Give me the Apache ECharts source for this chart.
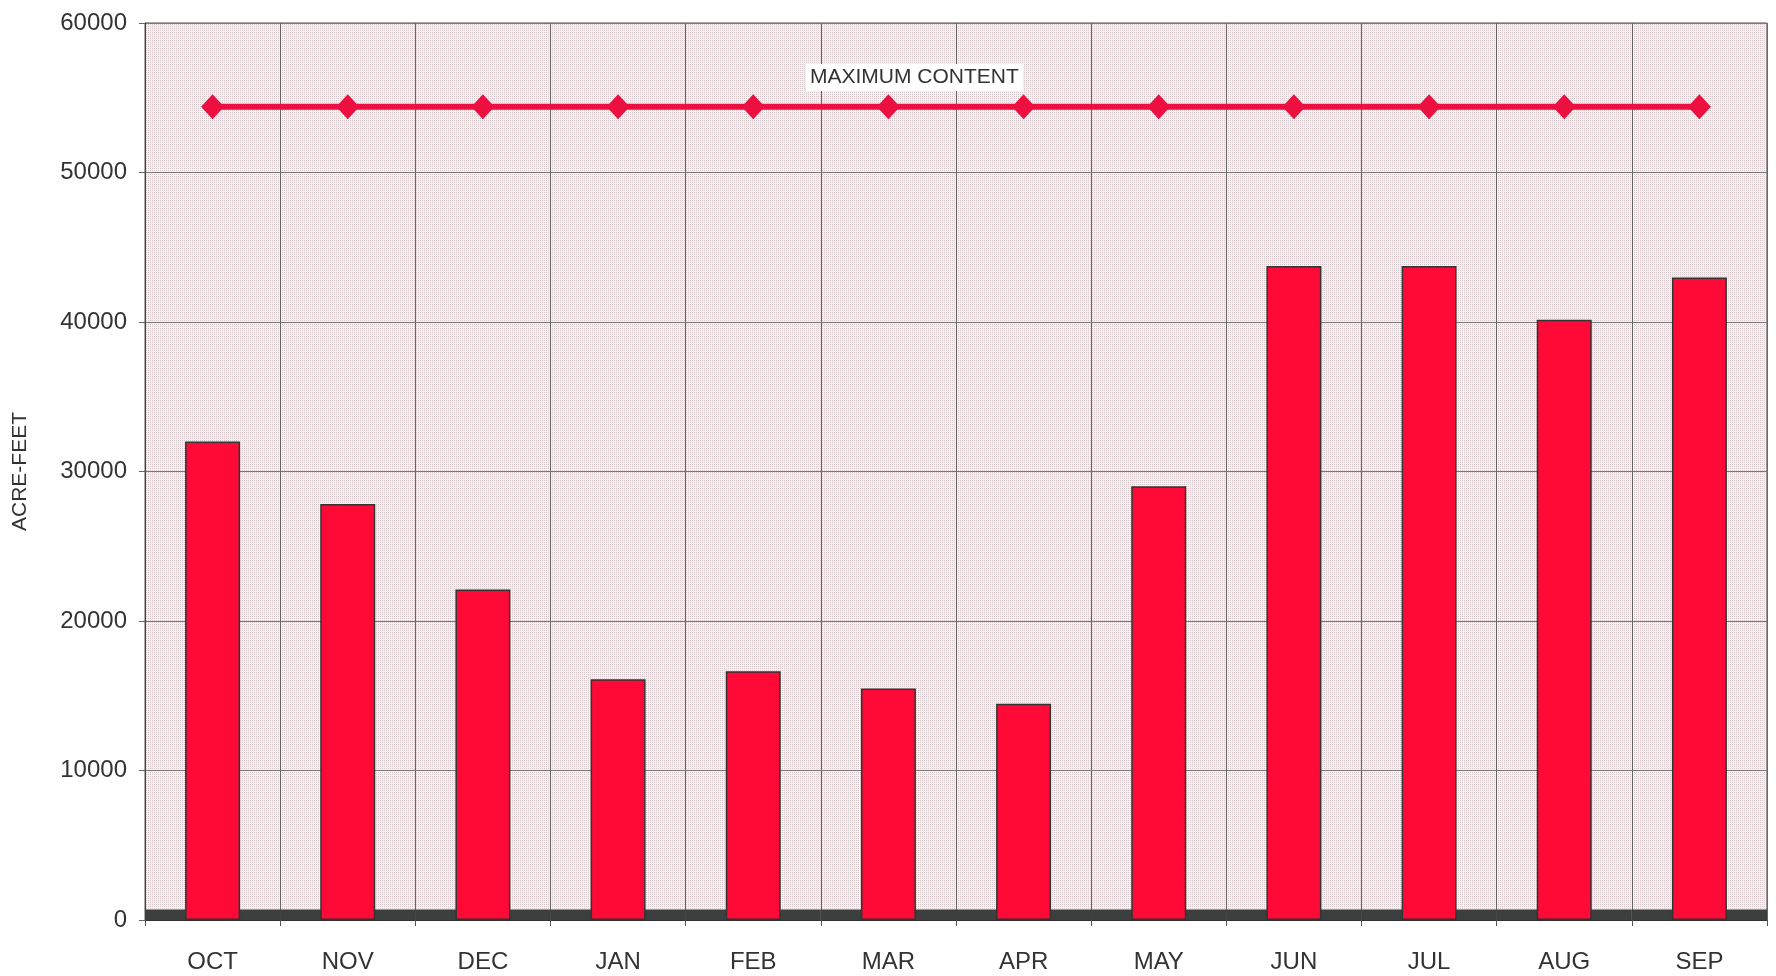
<!DOCTYPE html>
<html>
<head>
<meta charset="utf-8">
<script src="https://cdn.jsdelivr.net/npm/echarts@6/dist/echarts.min.js"></script>
<style>html,body{margin:0;padding:0;background:#fff;}#c{width:1776px;height:976px;}</style>
</head>
<body>
<div id="c"></div>
<script>
var months = ['OCT','NOV','DEC','JAN','FEB','MAR','APR','MAY','JUN','JUL','AUG','SEP'];
var contentValues = [32000, 27830, 22110, 16100, 16640, 15480, 14460, 29010, 43740, 43740, 40150, 42970];
var maxContent = [54400, 54400, 54400, 54400, 54400, 54400, 54400, 54400, 54400, 54400, 54400, 54400];
var minPool = [700, 700, 700, 700, 700, 700, 700, 700, 700, 700, 700, 700];
var yTicks = [0, 10000, 20000, 30000, 40000, 50000, 60000];

// stippled plot background pattern
var pc = document.createElement('canvas');
pc.width = 4; pc.height = 4;
var px = pc.getContext('2d');
px.fillStyle = '#f6f0f1'; px.fillRect(0,0,4,4);
px.fillStyle = '#dcc4c8'; px.fillRect(0,0,1,1); px.fillRect(2,2,1,1);
px.fillStyle = '#cfcbcc'; px.fillRect(2,0,1,1); px.fillRect(0,2,1,1);

var chart = echarts.init(document.getElementById('c'));
var font = 'Liberation Sans, Arial, sans-serif';
chart.setOption({
  animation: false,
  backgroundColor: '#ffffff',
  grid: {
    left: 145, right: 9, top: 23, bottom: 56,
    show: true,
    backgroundColor: {image: pc, repeat: 'repeat'},
    borderColor: '#555', borderWidth: 1
  },
  graphic: [{
    type: 'text',
    left: 806, top: 64,
    z: 100,
    style: {
      text: 'MAXIMUM CONTENT',
      font: '21px ' + font,
      fill: '#333',
      backgroundColor: '#ffffff',
      padding: [3, 4, 3, 4]
    }
  }],
  xAxis: [{
    type: 'category',
    data: months,
    boundaryGap: true,
    axisLine: {show: true, lineStyle: {color: '#333', width: 1}},
    axisTick: {show: true, length: 6, lineStyle: {color: '#555'}},
    axisLabel: {color: '#333', fontSize: 24, fontFamily: font, margin: 30},
    splitLine: {show: true, lineStyle: {color: '#666', width: 1}}
  }, {
    type: 'category',
    data: months,
    boundaryGap: true,
    show: false,
    position: 'bottom'
  }],
  yAxis: {
    type: 'value',
    min: yTicks[0], max: yTicks[yTicks.length - 1], interval: 10000,
    name: 'ACRE-FEET',
    nameLocation: 'middle',
    nameGap: 114,
    nameRotate: 90,
    nameTextStyle: {color: '#333', fontSize: 21, fontFamily: font},
    axisLine: {show: true, lineStyle: {color: '#444', width: 1}},
    axisTick: {show: true, length: 6, lineStyle: {color: '#666'}},
    axisLabel: {color: '#333', fontSize: 24, fontFamily: font, margin: 18,
      formatter: function (v) { return String(v); }},
    splitLine: {show: true, lineStyle: {color: '#777', width: 1}}
  },
  series: [{
    name: 'Minimum',
    type: 'bar',
    xAxisIndex: 1,
    data: minPool,
    barWidth: '100%',
    itemStyle: {color: '#3b3f3d'},
    z: 2
  }, {
    name: 'Content',
    type: 'bar',
    xAxisIndex: 0,
    data: contentValues,
    barWidth: 55,
    itemStyle: {color: '#ff0a36', borderColor: '#333', borderWidth: 1.5},
    z: 3
  }, {
    name: 'Maximum Content',
    type: 'line',
    xAxisIndex: 0,
    data: maxContent,
    symbol: 'diamond',
    symbolSize: [23, 25],
    lineStyle: {color: '#ec0f40', width: 6},
    itemStyle: {color: '#ec0f40'},
    z: 4
  }]
});
</script>
</body>
</html>
